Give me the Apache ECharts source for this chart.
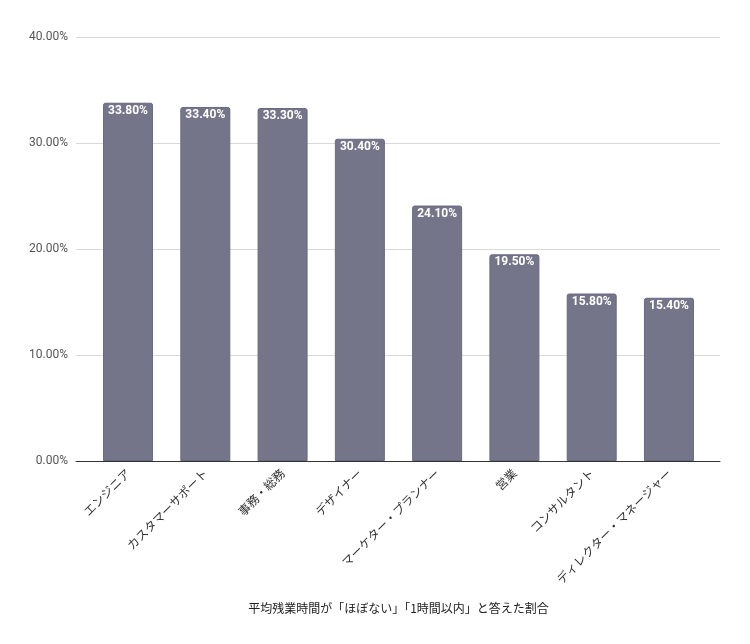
<!DOCTYPE html>
<html>
<head>
<meta charset="utf-8">
<script src="https://cdn.jsdelivr.net/npm/echarts@6/dist/echarts.min.js"></script>
<style>html,body{margin:0;padding:0;background:#fff;}#c{width:750px;height:644px;}</style>
</head>
<body>
<div id="c"></div>
<script>
const categories = ['エンジニア','カスタマーサポート','事務・総務','デザイナー','マーケター・プランナー','営業','コンサルタント','ディレクター・マネージャー'];
const values = [33.8, 33.4, 33.3, 30.4, 24.1, 19.5, 15.8, 15.4];
const yTicks = [0, 10, 20, 30, 40];
const axisTitle = '平均残業時間が「ほぼない」「1時間以内」と答えた割合';

const chart = echarts.init(document.getElementById('c'), null, {renderer: 'canvas'});
const numFont = 'Roboto, "Noto Sans CJK JP", sans-serif';
const jpFont = '"Noto Sans CJK JP", sans-serif';
chart.setOption({
  animation: false,
  backgroundColor: '#ffffff',
  grid: [
    {left: 76, right: 30, top: 37, bottom: 183},
    {left: 89.4, right: 42.4, top: 37, bottom: 183}
  ],
  xAxis: [
    {gridIndex: 0, type: 'value', min: 0, max: 1, axisLabel: {show: false}, axisTick: {show: false}, splitLine: {show: false},
     axisLine: {show: true, onZero: false, lineStyle: {color: '#333333', width: 1}}},
    {gridIndex: 1, type: 'category', data: categories, axisLine: {show: false}, axisTick: {show: false},
     axisLabel: {rotate: 45, interval: 0, margin: 10, fontSize: 12, color: '#333333', fontFamily: jpFont},
     name: axisTitle, nameLocation: 'middle', nameGap: 141,
     nameTextStyle: {fontSize: 12, color: '#222222', fontFamily: jpFont}}
  ],
  yAxis: [
    {gridIndex: 0, type: 'value', min: yTicks[0], max: yTicks[yTicks.length - 1], interval: 10,
     axisLine: {show: false}, axisTick: {show: false},
     axisLabel: {margin: 8, fontSize: 12, color: '#555555', fontFamily: numFont,
       formatter: v => v.toFixed(2) + '%'},
     splitLine: {show: true, lineStyle: {color: '#d9d9d9', width: 1}}},
    {gridIndex: 1, type: 'value', min: yTicks[0], max: yTicks[yTicks.length - 1], interval: 10, show: false}
  ],
  series: [{
    type: 'bar',
    xAxisIndex: 1,
    yAxisIndex: 1,
    data: values,
    barWidth: 50,
    itemStyle: {color: '#757589', borderColor: '#696980', borderWidth: 1, borderRadius: [2, 2, 0, 0]},
    label: {show: true, position: 'insideTop', distance: 2, color: '#ffffff', fontSize: 12, fontWeight: 'bold',
      fontFamily: numFont, formatter: p => p.value.toFixed(2) + '%'}
  }]
});
</script>
</body>
</html>
